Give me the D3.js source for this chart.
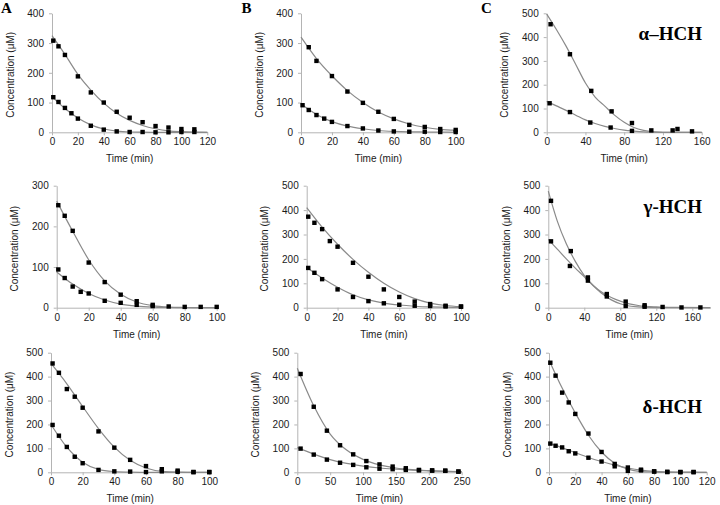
<!DOCTYPE html>
<html><head><meta charset="utf-8">
<script src="https://cdn.jsdelivr.net/npm/d3@7"></script>
<style>
html,body{margin:0;padding:0;background:#fff;}
svg{display:block;}
</style></head>
<body>
<svg id="chart" width="720" height="505"></svg>
<script>
// ---------------- DATA ----------------
// Panel A1
const a1HighTime = [1,5,10,20,30,40,50,60,70,80,90,100,110];
const a1High     = [308,289,260,188,134,100,69,49,34,21,16,11,10];
const a1LowTime  = [1,5,10,15,20,30,40,50,60,70,80,90,100,110];
const a1Low      = [118,102,82,64,46,22,9,3,1,1,0,0,1,1];
const a1FitX     = [0,10,20,30,40,50,60,70,80,90,100,110,120];
const a1FitHigh  = [325,262,195,142,98,64,40,23,12,5,2,0.5,0];
const a1FitLow   = [120,80,48,25,11,4,1,0.3,0,0,0,0,0];
// Panel B1
const b1HighTime = [5,10,20,30,40,50,60,70,80,90,100];
const b1High     = [286,240,189,137,99,69,45,25,18,11,8];
const b1LowTime  = [1,5,10,15,20,30,40,50,60,70,80,90,100];
const b1Low      = [91,75,58,46,35,21,13,6,3,2,2,1,1];
const b1FitX     = [0,10,20,30,40,50,60,70,80,90,100];
const b1FitHigh  = [320,248,190,140,100,68,45,28,17,10,7];
const b1FitLow   = [95,60,36,21,12,6,3,1.5,1,0.5,0];
// Panel C1 (alpha-HCH)
const c1HighTime = [4,24,46,67,88,108,130,135,150];
const c1High     = [454,328,174,88,39,8,8,14,4];
const c1LowTime  = [3,24,45,66,88];
const c1Low      = [122,85,41,20,6];
const c1FitX     = [0,10,20,30,40,50,60,70,80,90,100,110,120,140,160];
const c1FitHigh  = [497,432,362,285,207,148,110,72,42,20,8,2,0,0,0];
const c1FitLow   = [130,111,92,72,52,37,25,16,9,5,2,0.7,0,0,0];
// Panel A2
const a2HighTime = [1,5,10,20,30,40,50,60,70,80,90,100];
const a2High     = [252,226,189,111,63,32,16,7,3,2,2,2];
const a2LowTime  = [1,5,10,15,20,30,40,50,60];
const a2Low      = [94,73,52,39,35,17,12,7,4];
const a2FitX     = [0,10,20,30,40,50,60,70,80,90,100];
const a2FitHigh  = [262,188,118,66,33,14,5,1.5,0.5,0,0];
const a2FitLow   = [88,58,35,19,9,4,1.5,0.5,0,0,0];
// Panel B2
const b2HighTime = [1,5,10,15,20,30,40,50,60,70,80,90,100];
const b2High     = [373,348,322,273,250,184,127,75,44,25,15,8,5];
const b2LowTime  = [1,5,10,20,30,40,50,60,70,80,90,100];
const b2Low      = [163,143,117,75,44,27,18,12,8,7,5,4];
const b2FitX     = [0,10,20,30,40,50,60,70,80,90,100];
const b2FitHigh  = [410,330,260,198,145,100,64,37,19,9,4];
const b2FitLow   = [165,122,84,53,32,19,11,6,3,2,1];
// Panel C2 (gamma-HCH)
const c2HighTime = [3,25,44,65,86,107,127,148,169];
const c2High     = [438,232,124,56,25,10,3,1,1];
const c2LowTime  = [3,24,44,65,86,107];
const c2Low      = [272,171,111,46,7,4];
const c2FitX     = [0,10,20,30,40,50,60,70,80,90,100,120,140,180];
const c2FitHigh  = [478,355,262,190,132,91,62,42,27,16,9,3,1,0];
const c2FitLow   = [280,240,200,162,127,90,57,32,16,7,3,0.5,0,0];
// Panel A3
const a3HighTime = [1,5,10,15,20,30,40,50,60,70,80,90,100];
const a3High     = [455,416,348,316,270,171,103,52,26,13,7,1,1];
const a3LowTime  = [1,5,10,15,20,30,40,50,60,70,80,90,100];
const a3Low      = [198,153,106,65,38,10,4,3,1,4,2,1,1];
const a3FitX     = [0,10,20,30,40,50,60,70,80,90,100];
const a3FitHigh  = [455,370,275,183,105,50,18,4,0.5,0,0];
const a3FitLow   = [200,105,42,12,3,0.5,0,0,0,0,0];
// Panel B3
const b3HighTime = [5,25,45,65,85,105,125,145,165,185,205,225,245];
const b3High     = [411,274,174,113,75,47,33,24,17,10,8,7,3];
const b3LowTime  = [5,25,45,65,85,105,125,145,165,185,205,225,245];
const b3Low      = [99,74,53,40,31,21,15,13,10,8,7,6,3];
const b3FitX     = [0,25,50,75,100,125,150,175,200,225,250];
const b3FitHigh  = [435,278,160,93,54,31,18,11,7,4,2];
const b3FitLow   = [103,76,53,37,26,18,13,9,6,4,3];
// Panel C3 (delta-HCH)
const c3HighTime = [1,5,10,15,20,30,40,50,60,70,80,90,100,110];
const c3High     = [458,404,333,292,244,162,85,35,6,8,3,1,1,1];
const c3LowTime  = [1,5,10,15,20,30,40,50,60,70,80,90,100,110];
const c3Low      = [120,111,104,88,79,61,45,25,20,11,4,2,1,1];
const c3FitX     = [0,10,20,30,40,50,60,70,80,90,100,110,120];
const c3FitHigh  = [470,352,248,155,85,38,13,3,1,0,0,0,0];
const c3FitLow   = [122,103,82,62,45,30,18,9,4,2,1,0.5,0];

// Tick labels
const xTicks100 = [0,20,40,60,80,100];
const xTicks120 = [0,20,40,60,80,100,120];
const xTicks160 = [0,40,80,120,160];
const xTicks250 = [0,50,100,150,200,250];
const yTicks300 = [0,100,200,300];
const yTicks400 = [0,100,200,300,400];
const yTicks500 = [0,100,200,300,400,500];

const columnLetters = ["A","B","C"];
const compoundLabels = ["\u03B1\u2013HCH","\u03B3-HCH","\u03B4-HCH"];
const xTitle = "Time (min)";
const yTitle = "Concentration (\u03BCM)";

const panels = [
  {key:"A1", xMax:120, xTicks:xTicks120, yMax:400, yTicks:yTicks400,
   pts:[[a1HighTime,a1High],[a1LowTime,a1Low]], fit:[a1FitX,a1FitHigh,a1FitLow]},
  {key:"B1", xMax:100, xTicks:xTicks100, yMax:400, yTicks:yTicks400,
   pts:[[b1HighTime,b1High],[b1LowTime,b1Low]], fit:[b1FitX,b1FitHigh,b1FitLow]},
  {key:"C1", xMax:160, xTicks:xTicks160, yMax:500, yTicks:yTicks500,
   pts:[[c1HighTime,c1High],[c1LowTime,c1Low]], fit:[c1FitX,c1FitHigh,c1FitLow]},
  {key:"A2", xMax:100, xTicks:xTicks100, yMax:300, yTicks:yTicks300,
   pts:[[a2HighTime,a2High],[a2LowTime,a2Low]], fit:[a2FitX,a2FitHigh,a2FitLow]},
  {key:"B2", xMax:100, xTicks:xTicks100, yMax:500, yTicks:yTicks500,
   pts:[[b2HighTime,b2High],[b2LowTime,b2Low]], fit:[b2FitX,b2FitHigh,b2FitLow]},
  {key:"C2", xMax:180, xTicks:xTicks160, yMax:500, yTicks:yTicks500,
   pts:[[c2HighTime,c2High],[c2LowTime,c2Low]], fit:[c2FitX,c2FitHigh,c2FitLow]},
  {key:"A3", xMax:100, xTicks:xTicks100, yMax:500, yTicks:yTicks500,
   pts:[[a3HighTime,a3High],[a3LowTime,a3Low]], fit:[a3FitX,a3FitHigh,a3FitLow]},
  {key:"B3", xMax:250, xTicks:xTicks250, yMax:500, yTicks:yTicks500,
   pts:[[b3HighTime,b3High],[b3LowTime,b3Low]], fit:[b3FitX,b3FitHigh,b3FitLow]},
  {key:"C3", xMax:120, xTicks:xTicks120, yMax:500, yTicks:yTicks500,
   pts:[[c3HighTime,c3High],[c3LowTime,c3Low]], fit:[c3FitX,c3FitHigh,c3FitLow]}
];

// ---------------- LAYOUT ----------------
// plot box in pixels: [left, right, top, bottom]
const layout = {
  A1:[52,207.3,13.3,132.3],  B1:[301,455.7,13.3,132.3],  C1:[546.7,701.7,13.3,132.3],
  A2:[56.7,216.7,185.7,307.7], B2:[306.7,461,185.7,307.7], C2:[548.3,710.3,185.7,307.7],
  A3:[51,209.3,352.7,472.3], B3:[297.3,461.7,352.7,472.3], C3:[549,706.7,352.7,472.3]
};
const letterPos = [[1,12.5],[241.5,12.5],[481,12.5]];
const labelPos = [[702,40],[702,212.7],[702,412.7]];

const FONT = "'Liberation Sans', Arial, sans-serif";
const SERIF = "'Liberation Serif', 'Times New Roman', serif";
const AXIS_COLOR = "#b4b4b4";
const LINE_COLOR = "#8a8a8a";
const TEXT_COLOR = "#1a1a1a";

const svg = d3.select("#chart");

panels.forEach(p => {
  const [L,R,T,B] = layout[p.key];
  const x = d3.scaleLinear().domain([0,p.xMax]).range([L,R]);
  const y = d3.scaleLinear().domain([0,p.yMax]).range([B,T]);
  const g = svg.append("g");

  // axes
  const xAxis = d3.axisBottom(x).tickValues(p.xTicks).tickSize(3).tickPadding(3).tickSizeOuter(0);
  const gx = g.append("g").attr("transform",`translate(0,${B})`).call(xAxis);
  const yAxis = d3.axisLeft(y).tickValues(p.yTicks).tickSize(3).tickPadding(5).tickSizeOuter(0);
  const gy = g.append("g").attr("transform",`translate(${L},0)`).call(yAxis);
  [gx,gy].forEach(a => {
    a.select(".domain").attr("stroke",AXIS_COLOR).attr("stroke-width",1);
    a.selectAll(".tick line").attr("stroke",AXIS_COLOR);
    a.selectAll(".tick text").attr("fill",TEXT_COLOR).style("font-family",FONT).style("font-size","10px");
  });

  // axis titles
  g.append("text").attr("x",(L+R)/2).attr("y",B+30)
    .attr("text-anchor","middle").style("font-family",FONT).style("font-size","10px")
    .attr("fill",TEXT_COLOR).text(xTitle);
  g.append("text").attr("transform",`translate(${L-42},${(T+B)/2+2}) rotate(-90)`)
    .attr("text-anchor","middle").attr("dy","0.35em").style("font-family",FONT).style("font-size","10px")
    .attr("fill",TEXT_COLOR).text(yTitle);

  // fitted curves
  const [fx, fh, fl] = p.fit;
  const line = d3.line().x(d=>x(d[0])).y(d=>y(d[1])).curve(d3.curveMonotoneX);
  [fh, fl].forEach(vals => {
    g.append("path").datum(fx.map((t,i)=>[t,vals[i]]))
      .attr("d",line).attr("fill","none").attr("stroke",LINE_COLOR).attr("stroke-width",1.2);
  });

  // markers
  const s = 4.4;
  p.pts.forEach(([ts, vs]) => {
    g.selectAll(null).data(ts.map((t,i)=>[t,vs[i]])).enter().append("rect")
      .attr("x",d=>x(d[0])-s/2).attr("y",d=>y(d[1])-s/2)
      .attr("width",s).attr("height",s).attr("fill","#000");
  });
});

// column letters
columnLetters.forEach((c,i)=>{
  svg.append("text").attr("x",letterPos[i][0]).attr("y",letterPos[i][1])
    .style("font-family",SERIF).style("font-weight","bold").style("font-size","15px")
    .attr("fill","#000").text(c);
});
// compound labels
compoundLabels.forEach((c,i)=>{
  svg.append("text").attr("x",labelPos[i][0]).attr("y",labelPos[i][1])
    .attr("text-anchor","end")
    .style("font-family",SERIF).style("font-weight","bold").style("font-size","19px")
    .attr("fill","#000").text(c);
});
</script>
</body></html>
